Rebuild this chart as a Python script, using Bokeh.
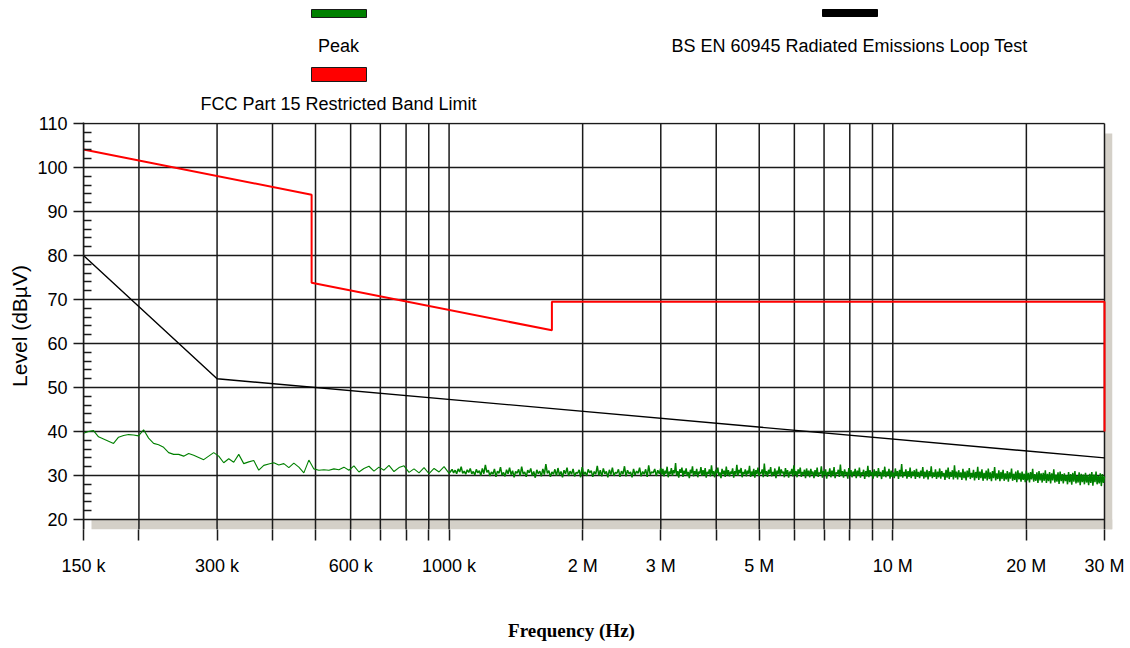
import numpy as np
from bokeh.plotting import figure
from bokeh.models import Range1d, FixedTicker
from bokeh.layouts import column
from bokeh.core.properties import value
from bokeh.embed import file_html
from bokeh.resources import INLINE

# ---------------- data ----------------
x_ticks = [150e3, 200e3, 300e3, 400e3, 500e3, 600e3, 700e3, 800e3, 900e3,
           1e6, 2e6, 3e6, 4e6, 5e6, 6e6, 7e6, 8e6, 9e6, 10e6, 20e6, 30e6]
x_tick_labels = {150e3: "150 k", 300e3: "300 k", 600e3: "600 k", 1e6: "1000 k",
                 2e6: "2 M", 3e6: "3 M", 5e6: "5 M", 10e6: "10 M",
                 20e6: "20 M", 30e6: "30 M"}
y_ticks = [20, 30, 40, 50, 60, 70, 80, 90, 100, 110]
y_minor_ticks = [22, 24, 26, 28, 32, 34, 36, 38, 42, 44, 46, 48, 52, 54, 56, 58,
                 62, 64, 66, 68, 72, 74, 76, 78, 82, 84, 86, 88, 92, 94, 96, 98,
                 102, 104, 106, 108]

legend_labels = ["Peak", "FCC Part 15 Restricted Band Limit",
                 "BS EN 60945 Radiated Emissions Loop Test"]
legend_colors = ["#008000", "#ff0000", "#000000"]

fcc_freq = [150e3, 490e3, 490e3, 1.705e6, 1.705e6, 30e6, 30e6]
fcc_level = [104.1, 93.8, 73.8, 63.0, 69.5, 69.5, 40.0]

bsen_freq = [150e3, 300e3, 30e6]
bsen_level = [80.0, 52.0, 34.0]

# Peak trace, 150 kHz - 1 MHz
peak_low = [39.6, 40.0, 40.2, 38.8, 38.3, 37.8, 37.3, 38.7, 39.1, 39.3,
            39.2, 39.0, 40.4, 38.5, 37.3, 37.0, 36.4, 35.2, 34.8, 34.8,
            34.4, 35.0, 34.6, 34.1, 33.6, 34.4, 35.2, 34.4, 32.9, 33.8,
            33.0, 34.8, 32.7, 33.1, 33.4, 31.2, 32.3, 32.6, 32.9, 32.4,
            32.7, 31.8, 32.8, 31.9, 30.6, 33.5, 31.5, 31.2, 31.3, 31.2,
            31.5, 31.3, 31.9, 31.2, 32.2, 30.8, 31.6, 32.1, 31.0, 31.9,
            31.2, 32.3, 30.9, 31.8, 32.2, 30.7, 31.5, 30.6, 31.8, 30.4,
            31.6, 30.8, 32.0, 30.5]
# Peak trace, 1 MHz - 3 MHz
peak_mid = [30.9, 31.4, 30.6, 31.2, 30.4, 31.5, 30.8, 32.0, 30.5, 31.0, 30.3, 31.3, 30.7, 31.6, 30.4, 30.9, 30.1, 31.4, 30.6, 31.1,
            30.0, 31.6, 30.4, 32.4, 30.7, 31.2, 29.9, 30.8, 30.3, 31.5, 29.7, 31.0, 30.5, 31.9, 30.1, 30.7, 29.8, 31.3, 30.4, 31.8,
            30.2, 31.1, 29.6, 30.9, 30.5, 31.4, 29.9, 32.0, 30.3, 30.8, 29.7, 31.2, 30.6, 31.6, 30.0, 30.9, 29.5, 31.3, 30.4, 31.0,
            29.8, 31.5, 30.2, 32.6, 30.5, 31.1, 29.7, 30.8, 30.3, 31.4, 29.9, 31.7, 30.1, 30.9, 29.6, 31.2, 30.4, 31.8, 29.9, 31.0,
            30.3, 31.5, 29.8, 30.7, 30.5, 31.3, 29.6, 31.9, 30.2, 30.8, 29.9, 31.4, 30.6, 31.1, 29.7, 30.9, 30.3, 32.2, 30.0, 31.2,
            29.8, 31.6, 30.4, 30.9, 29.6, 31.3, 30.2, 31.8, 29.9, 30.7, 30.5, 31.4, 29.7, 31.0, 30.3, 32.1, 29.8, 31.2, 30.4, 30.8,
            29.6, 31.5, 30.1, 31.0, 30.5, 31.8, 29.8, 30.9, 30.3, 31.4, 29.7, 32.3, 30.2, 30.8, 30.6, 31.5, 29.9, 31.2, 30.4, 31.7]
# Peak trace, 3 MHz - 30 MHz
peak_high = [30.2, 31.5, 29.8, 31.1, 30.4, 32.0, 29.6, 30.9, 30.3, 31.7, 29.9, 31.2, 30.5, 32.8, 30.0, 31.0, 29.5, 31.4, 30.6, 31.8,
             29.7, 31.1, 30.3, 31.6, 29.9, 30.8, 29.4, 31.3, 30.5, 32.1, 29.8, 31.0, 30.2, 31.5, 29.6, 30.9, 30.4, 31.9, 29.9, 31.2,
             30.1, 31.7, 29.5, 30.8, 30.4, 31.4, 29.8, 32.3, 30.2, 31.0, 29.6, 31.3, 30.5, 31.8, 29.9, 30.7, 29.4, 31.5, 30.3, 31.1,
             29.7, 32.0, 30.1, 31.2, 29.8, 30.9, 30.4, 31.6, 29.5, 31.0, 30.2, 32.4, 29.9, 31.3, 30.5, 31.7, 29.6, 30.8, 30.3, 31.4,
             29.8, 31.1, 30.4, 32.2, 29.7, 30.9, 30.1, 31.5, 29.5, 31.2, 30.3, 31.8, 29.9, 30.7, 30.5, 31.4, 29.6, 32.7, 30.2, 31.0,
             29.7, 31.3, 30.4, 31.9, 29.8, 30.8, 30.1, 31.6, 29.4, 31.1, 30.3, 32.0, 29.9, 31.4, 30.5, 30.9, 29.6, 31.7, 30.2, 31.2,
             29.5, 30.9, 30.3, 31.5, 29.8, 32.3, 30.1, 31.0, 29.6, 31.4, 30.4, 31.8, 29.7, 30.8, 30.2, 31.3, 29.4, 31.6, 30.0, 31.1,
             29.6, 31.5, 30.2, 30.9, 29.4, 31.2, 30.0, 31.8, 29.7, 30.7, 30.3, 32.1, 29.5, 31.0, 30.1, 31.4, 29.3, 30.8, 30.2, 31.6,
             29.6, 31.1, 30.0, 31.9, 29.4, 30.7, 30.3, 31.3, 29.7, 32.5, 29.9, 31.0, 29.5, 31.4, 30.2, 30.8, 29.3, 31.7, 30.0, 31.2,
             29.6, 30.9, 30.1, 31.5, 29.4, 31.1, 29.9, 31.8, 29.5, 30.7, 30.2, 31.3, 29.2, 31.0, 29.8, 32.2, 29.6, 31.2, 30.0, 30.8,
             29.3, 31.4, 29.9, 31.0, 29.5, 31.7, 30.1, 30.8, 29.2, 31.2, 29.8, 32.0, 29.6, 30.9, 30.0, 31.5, 29.3, 31.1, 29.7, 30.7,
             29.4, 31.6, 29.9, 31.0, 29.2, 31.3, 29.8, 32.6, 29.5, 30.8, 30.0, 31.4, 29.3, 31.0, 29.7, 31.8, 29.4, 30.9, 29.9, 31.2,
             29.2, 31.5, 29.7, 30.8, 29.4, 31.1, 29.9, 31.9, 29.3, 30.9, 29.6, 31.3, 29.1, 31.0, 29.8, 32.1, 29.4, 30.7, 29.7, 31.4,
             29.2, 30.9, 29.6, 31.6, 29.3, 31.0, 29.8, 30.6, 29.0, 31.3, 29.5, 31.8, 29.2, 30.8, 29.7, 31.2, 29.1, 32.3, 29.5, 30.9,
             29.1, 31.2, 29.6, 30.7, 29.0, 31.5, 29.4, 30.9, 28.9, 31.1, 29.6, 31.7, 29.2, 30.6, 29.5, 31.3, 28.9, 30.8, 29.4, 32.0,
             29.0, 30.9, 29.4, 31.4, 28.8, 30.6, 29.3, 31.1, 28.9, 31.6, 29.2, 30.7, 28.7, 31.0, 29.4, 31.9, 28.9, 30.5, 29.2, 31.2,
             28.7, 30.8, 29.2, 31.3, 28.8, 30.5, 29.1, 31.0, 28.6, 30.7, 29.3, 31.6, 28.8, 30.4, 29.0, 30.9, 28.5, 31.2, 29.1, 30.6,
             28.6, 30.9, 29.0, 30.4, 28.5, 31.1, 28.9, 30.6, 28.4, 30.8, 29.1, 31.5, 28.6, 30.3, 28.8, 30.7, 28.3, 31.0, 28.9, 30.5,
             28.4, 30.6, 28.8, 31.2, 28.3, 30.4, 28.7, 30.8, 28.2, 30.5, 28.9, 31.4, 28.4, 30.2, 28.6, 30.7, 28.1, 30.9, 28.7, 30.3,
             28.2, 30.5, 28.7, 30.1, 28.0, 30.8, 28.5, 30.3, 27.9, 30.6, 28.6, 31.0, 28.2, 30.0, 28.4, 30.7, 27.8, 30.4, 28.5, 30.2,
             28.0, 30.6, 28.4, 30.1, 27.8, 30.4, 28.3, 30.8, 27.7, 30.2, 28.5, 30.9, 28.0, 29.9, 28.2, 30.5, 27.6, 30.3, 28.3, 29.8]

# sample frequencies of the sweep segments
freq_low = np.geomspace(150e3, 1e6, len(peak_low))
freq_mid = np.geomspace(1e6, 3e6, len(peak_mid) + 1)[1:]
freq_high = np.geomspace(3e6, 30e6, len(peak_high) + 1)[1:]
dense_freq = np.concatenate([freq_low[-1:], freq_mid, freq_high])
dense_level = np.array(peak_low[-1:] + peak_mid + peak_high)

# ---------------- layout ----------------
W = 1128
TOP_H, MAIN_H, BOT_H = 115, 485, 46
MAIN_TOP = 122 - TOP_H
FRAME_L, FRAME_R = 83, 1112
F_MIN, F_MAX = 150e3, 30e6
PX_DEC = 443.7
PX_DB = 4.4
x_end = F_MAX * 10 ** (8 / PX_DEC)
y_lo = 20 - 10 / PX_DB
y_hi = 110 + 1 / PX_DB

SANS = "Liberation Sans"
GRID = "#1a1a1a"
GREEN = "#008000"


def blank_fig(h, y0, y1):
    f = figure(width=W, height=h, x_range=Range1d(FRAME_L, FRAME_R),
               y_range=Range1d(y0, y1),
               x_axis_location=None, y_axis_location=None,
               output_backend="svg", toolbar_location=None,
               min_border_left=FRAME_L, min_border_right=W - FRAME_R,
               min_border_top=0, min_border_bottom=0)
    f.title_location = None
    f.outline_line_color = None
    f.grid.visible = False
    f.background_fill_color = "white"
    f.border_fill_color = "white"
    return f


# legend strip (page pixel coordinates, y downward)
leg = blank_fig(TOP_H, TOP_H, 0)
leg.quad(left=[311, 311, 822], right=[366, 366, 877],
         top=[9, 67, 9], bottom=[17, 81, 16],
         fill_color=legend_colors, line_color=["#1a1a1a", "#1a1a1a", "#000000"],
         line_width=1)
leg.text(x=[338, 338, 849], y=[45, 103, 45], text=legend_labels,
         text_align="center", text_baseline="alphabetic",
         text_font=value(SANS), text_font_size="18px", text_color="black")

# main chart
p = figure(width=W, height=MAIN_H, x_axis_type="log",
           x_range=Range1d(F_MIN, x_end), y_range=Range1d(y_lo, y_hi),
           output_backend="svg", toolbar_location=None,
           min_border_left=FRAME_L, min_border_right=W - FRAME_R,
           min_border_top=MAIN_TOP, min_border_bottom=MAIN_H - MAIN_TOP - 407)
p.title_location = None
p.outline_line_color = None
p.background_fill_color = "white"
p.border_fill_color = "white"
p.xgrid.visible = False
p.ygrid.visible = False

# drop shadow
p.quad(left=[F_MIN * 10 ** (8 / PX_DEC), F_MAX], right=[x_end, x_end],
       bottom=[y_lo, y_lo], top=[20, 110 - 10 / PX_DB],
       fill_color="#d4d0c8", line_color=None)

# grid
p.segment(x0=x_ticks, y0=[y_lo] * len(x_ticks), x1=x_ticks, y1=[110] * len(x_ticks),
          line_color=GRID, line_width=1.5)
p.segment(x0=[F_MIN] * len(y_ticks), y0=y_ticks, x1=[F_MAX] * len(y_ticks), y1=y_ticks,
          line_color=GRID, line_width=1.5)

# traces (peak drawn thinner where the sweep is sparse)
p.line(freq_low, peak_low, line_color=GREEN, line_width=1.1)
p.line(dense_freq, dense_level, line_color=GREEN, line_width=1.5)
p.line(bsen_freq, bsen_level, line_color="black", line_width=1.4)
p.line(fcc_freq, fcc_level, line_color="#ff0000", line_width=2)

# axes
xa = p.xaxis[0]
xa.ticker = FixedTicker(ticks=x_ticks, minor_ticks=[])
xa.major_label_overrides = {t: x_tick_labels.get(t, "") for t in x_ticks}
xa.axis_line_color = None
xa.major_tick_in = 0
xa.major_tick_out = 11
xa.major_tick_line_color = GRID
xa.major_tick_line_width = 1.5
xa.major_label_standoff = 15
xa.major_label_text_font = SANS
xa.major_label_text_font_size = "18px"
xa.major_label_text_color = "black"

ya = p.yaxis[0]
ya.ticker = FixedTicker(ticks=y_ticks, minor_ticks=y_minor_ticks)
ya.axis_line_color = GRID
ya.axis_line_width = 1.5
ya.major_tick_in = 0
ya.major_tick_out = 10
ya.major_tick_line_color = GRID
ya.major_tick_line_width = 1.5
ya.minor_tick_in = 8
ya.minor_tick_out = 0
ya.minor_tick_line_color = GRID
ya.minor_tick_line_width = 1.5
ya.major_label_standoff = 6
ya.major_label_text_font = SANS
ya.major_label_text_font_size = "18px"
ya.major_label_text_color = "black"
ya.axis_label = "Level (dBµV)"
ya.axis_label_standoff = 3
ya.axis_label_text_font = SANS
ya.axis_label_text_font_size = "21px"
ya.axis_label_text_font_style = "normal"
ya.axis_label_text_color = "black"

# x-axis title strip
bot = blank_fig(BOT_H, TOP_H + MAIN_H + BOT_H, TOP_H + MAIN_H)
bot.text(x=[571], y=[630], text=["Frequency (Hz)"],
         text_align="center", text_baseline="alphabetic",
         text_font=value("Liberation Serif"), text_font_style="bold",
         text_font_size="19px", text_color="black")

layout = column(leg, p, bot, spacing=0)
open("out.html", "w").write(file_html(layout, INLINE))
